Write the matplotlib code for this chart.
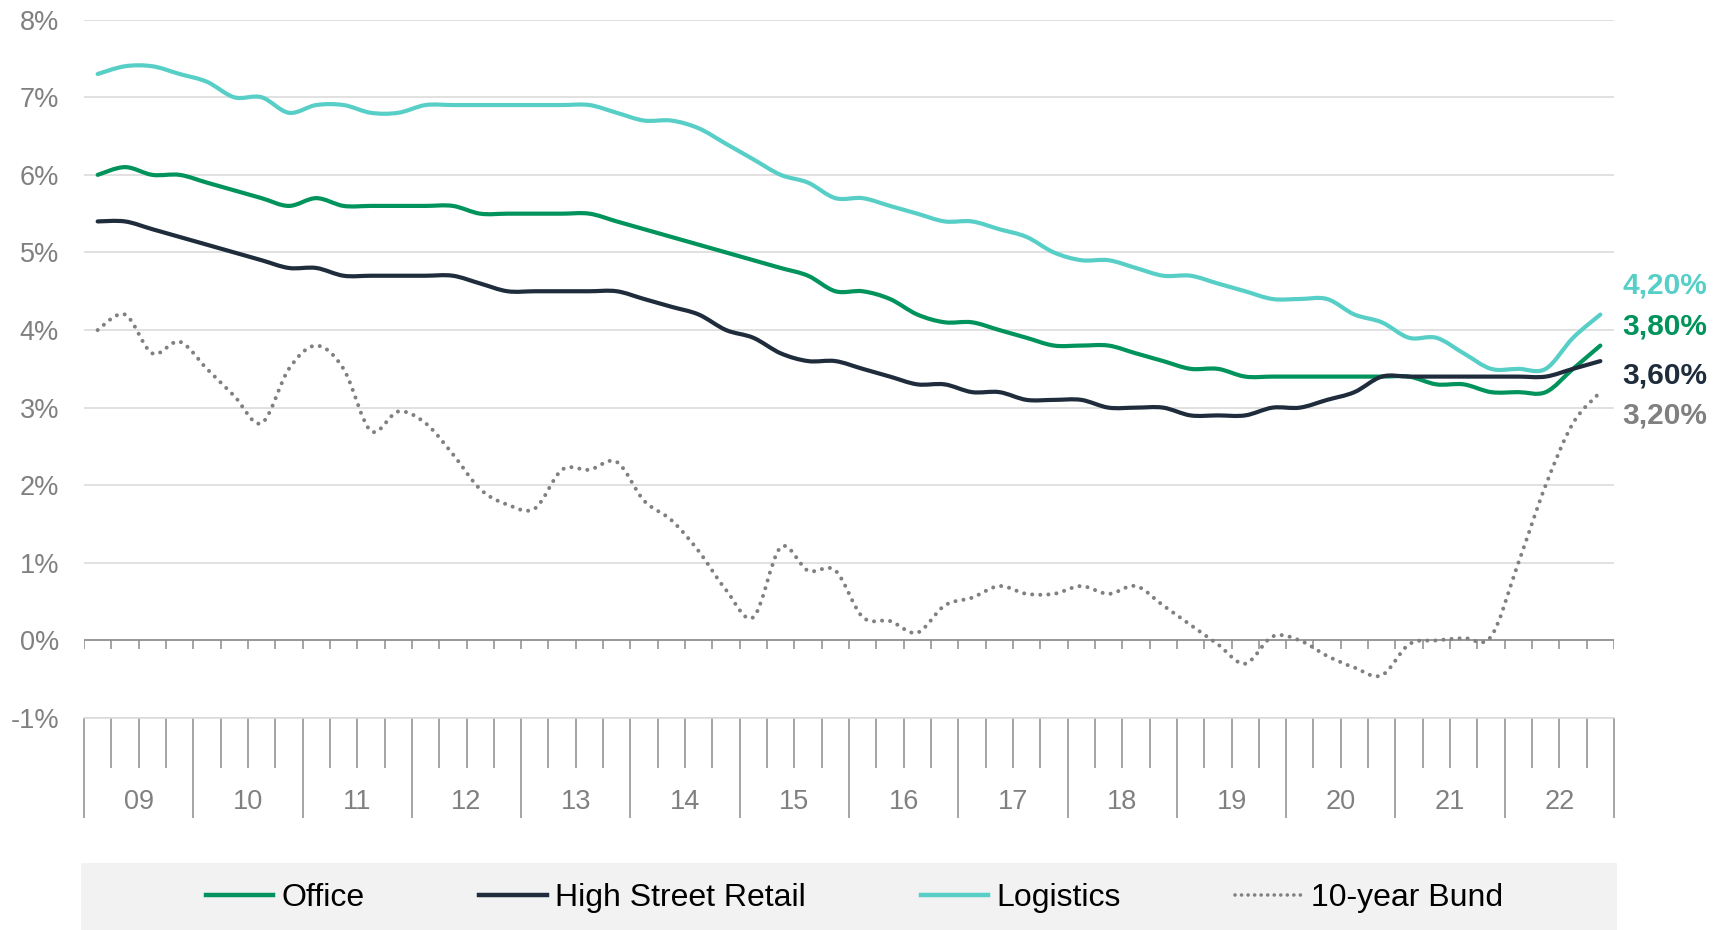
import numpy as np
import matplotlib
matplotlib.use("Agg")
import matplotlib.pyplot as plt
from matplotlib.path import Path
from matplotlib.patches import PathPatch, Rectangle
from matplotlib.lines import Line2D

plt.rcParams['font.family'] = ['Liberation Sans', 'DejaVu Sans']

# quarterly data 2009 Q1 - 2022 Q4
years = ['09', '10', '11', '12', '13', '14', '15', '16', '17', '18', '19', '20', '21', '22']
office = [6.0, 6.1, 6.0, 6.0, 5.9, 5.8, 5.7, 5.6, 5.7, 5.6,
          5.6, 5.6, 5.6, 5.6, 5.5, 5.5, 5.5, 5.5, 5.5, 5.4,
          5.3, 5.2, 5.1, 5.0, 4.9, 4.8, 4.7, 4.5, 4.5, 4.4,
          4.2, 4.1, 4.1, 4.0, 3.9, 3.8, 3.8, 3.8, 3.7, 3.6,
          3.5, 3.5, 3.4, 3.4, 3.4, 3.4, 3.4, 3.4, 3.4, 3.3,
          3.3, 3.2, 3.2, 3.2, 3.5, 3.8]
retail = [5.4, 5.4, 5.3, 5.2, 5.1, 5.0, 4.9, 4.8, 4.8, 4.7,
          4.7, 4.7, 4.7, 4.7, 4.6, 4.5, 4.5, 4.5, 4.5, 4.5,
          4.4, 4.3, 4.2, 4.0, 3.9, 3.7, 3.6, 3.6, 3.5, 3.4,
          3.3, 3.3, 3.2, 3.2, 3.1, 3.1, 3.1, 3.0, 3.0, 3.0,
          2.9, 2.9, 2.9, 3.0, 3.0, 3.1, 3.2, 3.4, 3.4, 3.4,
          3.4, 3.4, 3.4, 3.4, 3.5, 3.6]
logistics = [7.3, 7.4, 7.4, 7.3, 7.2, 7.0, 7.0, 6.8, 6.9, 6.9,
             6.8, 6.8, 6.9, 6.9, 6.9, 6.9, 6.9, 6.9, 6.9, 6.8,
             6.7, 6.7, 6.6, 6.4, 6.2, 6.0, 5.9, 5.7, 5.7, 5.6,
             5.5, 5.4, 5.4, 5.3, 5.2, 5.0, 4.9, 4.9, 4.8, 4.7,
             4.7, 4.6, 4.5, 4.4, 4.4, 4.4, 4.2, 4.1, 3.9, 3.9,
             3.7, 3.5, 3.5, 3.5, 3.9, 4.2]
bund = [4.0, 4.2, 3.7, 3.85, 3.5, 3.15, 2.8, 3.5, 3.8, 3.5,
        2.7, 2.95, 2.8, 2.4, 1.95, 1.75, 1.7, 2.2, 2.2, 2.3,
        1.8, 1.55, 1.15, 0.65, 0.3, 1.2, 0.9, 0.9, 0.3, 0.25,
        0.1, 0.45, 0.55, 0.7, 0.6, 0.6, 0.7, 0.6, 0.7, 0.45,
        0.2, -0.05, -0.3, 0.05, 0.0, -0.2, -0.35, -0.45, -0.05, 0.0,
        0.03, 0.05, 1.0, 2.0, 2.8, 3.2]
series_names = ['Office', 'High Street Retail', 'Logistics', '10-year Bund']
colors = ['#00935C', '#1E2C3C', '#57CFC7', '#808080']
ytick_vals = [-1, 0, 1, 2, 3, 4, 5, 6, 7, 8]
ytick_labels = ['-1%', '0%', '1%', '2%', '3%', '4%', '5%', '6%', '7%', '8%']


def smooth_path(x, y):
    # excel-like smoothed line: cubic bezier through each point
    pts = np.column_stack([x, y])
    n = len(pts)
    verts = [pts[0]]
    codes = [Path.MOVETO]
    for i in range(n - 1):
        p0 = pts[i - 1] if i > 0 else pts[i]
        p1, p2 = pts[i], pts[i + 1]
        p3 = pts[i + 2] if i + 2 < n else pts[i + 1]
        verts += [p1 + (p2 - p0) / 6, p2 - (p3 - p1) / 6, p2]
        codes += [Path.CURVE4] * 3
    return Path(verts, codes)


fig = plt.figure(figsize=(17.14, 9.3), dpi=100)
ax = fig.add_axes([0.04901, 0.22796, 0.89265, 0.75086])

nq = len(office)
x = np.arange(nq) + 0.5
grey = '#808080'

ax.set_xlim(0, nq)
ax.set_ylim(-1, 8)
ax.set_yticks(ytick_vals)
ax.set_yticklabels(ytick_labels)
ax.grid(axis='y', color='#d9d9d9', lw=1.1)
ax.set_axisbelow(True)
for s in ['top', 'left', 'right']:
    ax.spines[s].set_visible(False)
ax.spines['bottom'].set_color('#d9d9d9')
ax.spines['bottom'].set_linewidth(1.1)
ax.tick_params(axis='y', length=0, pad=18, labelsize=19.5, labelcolor=grey)

# category axis: year boundaries (long) and quarter boundaries (short)
ax.set_xticks(np.arange(0, nq + 1, 4))
ax.set_xticks(np.arange(0, nq + 1, 1), minor=True)
ax.tick_params(axis='x', which='major', length=72, width=1.1, color='#8c8c8c', labelbottom=False)
ax.tick_params(axis='x', which='minor', length=36, width=1.1, color='#8c8c8c')
for k, yr in enumerate(years):
    ax.text(4 * k + 2, -0.12, yr, transform=ax.get_xaxis_transform(),
            ha='center', va='center', fontsize=19.5, color=grey)

# 0% line with small ticks
ax.axhline(0, color='#8c8c8c', lw=1.2, zorder=2)
ax.vlines(np.arange(0, nq + 1), -0.105, 0, color='#8c8c8c', lw=1.1, zorder=2)

data = [office, retail, logistics, bund]
for k, vals in enumerate(data):
    if k == 3:
        patch = PathPatch(smooth_path(x, vals), fill=False, edgecolor=colors[k], lw=2.9,
                          linestyle=(0, (0.01, 2.0)), capstyle='round', zorder=3 + k)
    else:
        patch = PathPatch(smooth_path(x, vals), fill=False, edgecolor=colors[k], lw=3.0,
                          capstyle='round', joinstyle='round', zorder=3 + k)
    ax.add_patch(patch)

# end value labels (baseline positions)
label_y = [4.476, 3.938, 3.316, 2.80]
for vals, col, ly in zip([logistics, office, retail, bund],
                         [colors[2], colors[0], colors[1], colors[3]], label_y):
    txt = f"{vals[-1]:.2f}".replace('.', ',') + '%'
    ax.text(nq + 0.32, ly, txt, ha='left', va='baseline', fontsize=21.5, fontweight='bold',
            color=col, clip_on=False)

# legend band
fig.add_artist(Rectangle((0.04726, 0.0), 0.8961, 0.072, transform=fig.transFigure,
                         facecolor='#f2f2f2', edgecolor='none', zorder=0))
handles = [Line2D([], [], color=colors[0], lw=3.2),
           Line2D([], [], color=colors[1], lw=3.2),
           Line2D([], [], color=colors[2], lw=3.2),
           Line2D([], [], color=colors[3], lw=2.6, linestyle=(0, (0.01, 1.8)),
                  dash_capstyle='round')]
fig.legend(handles, series_names, loc='center', bbox_to_anchor=(0.4985, 0.0344), ncol=4,
           frameon=False, fontsize=23, handlelength=2.1, handletextpad=0.26,
           columnspacing=3.6, borderpad=0, borderaxespad=0)

fig.savefig('out.png', dpi=100)
